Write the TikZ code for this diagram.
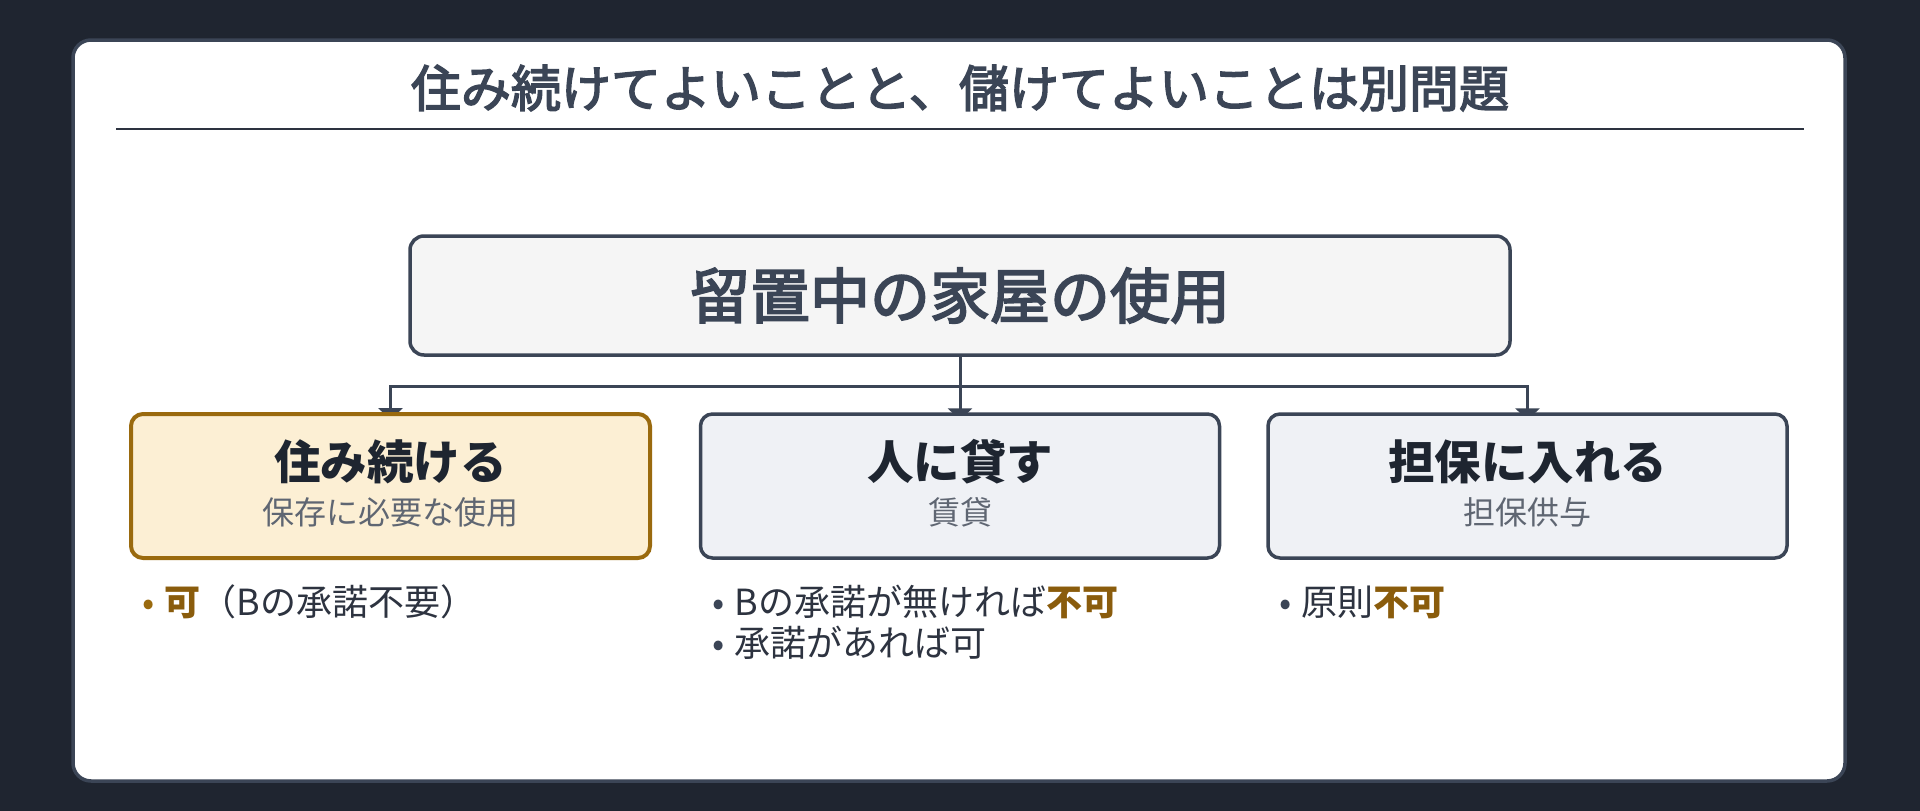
\documentclass[tikz,border=0pt]{standalone}
\usepackage{fontspec}
\setmainfont{Noto Sans CJK JP}
\newfontfamily\midfont{Noto Sans CJK JP}[FakeBold=3]
\usetikzlibrary{arrows.meta}
\definecolor{night}{HTML}{1F2530}
\definecolor{slate}{HTML}{3B4556}
\definecolor{ink}{HTML}{1E2530}
\definecolor{bodyink}{HTML}{2D3340}
\definecolor{inkgray}{HTML}{5F6672}
\definecolor{gold}{HTML}{9A6A0E}
\definecolor{goldtext}{HTML}{8A5C0C}
\definecolor{cream}{HTML}{FCEFD4}
\definecolor{mist}{HTML}{EFF1F5}
\definecolor{paper}{HTML}{F5F5F5}
\pgfdeclarelayer{card}
\pgfdeclarelayer{back}
\pgfsetlayers{card,back,main}
\tikzset{
  rootbox/.style={draw=slate, fill=paper, line width=3.5pt, rounded corners=14pt, minimum width=1100pt, minimum height=119pt, text=slate, font=\fontsize{60}{64}\midfont},
  leafbox/.style={draw=slate, fill=mist, line width=3.5pt, rounded corners=12pt, minimum width=519pt, minimum height=144pt},
  okbox/.style={leafbox, draw=gold, fill=cream, line width=4pt},
  leaftitle/.style={text=ink, font=\fontsize{46.5}{50}\selectfont\bfseries},
  leafsub/.style={text=inkgray, font=\fontsize{32}{36}\selectfont},
  item/.style={anchor=west, inner sep=0pt, text=bodyink, font=\fontsize{36}{40}\selectfont},
  link/.style={draw=slate, line width=3pt},
  tip/.style={link, -{Triangle[length=12pt,width=24pt]}}
}
\newcommand{\hl}[1]{\textcolor{goldtext}{\bfseries #1}}
\newcommand{\dotmark}[1]{\textcolor{#1}{•}\hspace{10pt}}
\begin{document}
\begin{tikzpicture}[x=1pt,y=-1pt]
  \begin{pgfonlayer}{card}
    \fill[night] (0,0) rectangle (1920,811);
    \draw[draw=slate, fill=white, line width=3.5pt, rounded corners=18pt] (73,40) rectangle (1845,781);
  \end{pgfonlayer}
  \useasboundingbox (0,0) rectangle (1920,811);
  \node[text=slate, font=\fontsize{50}{54}\midfont] (title) at (960,88) {住み続けてよいことと、儲けてよいことは別問題};
  \coordinate (ruleL) at (116,129);
  \coordinate (ruleR) at (1804,129);
  \draw[draw=bodyink, line width=2.5pt] (ruleL) -- (ruleR);

  \node[rootbox] (root) at (960,295.5) {留置中の家屋の使用};
  \coordinate (fork) at (960,386);

  \node[okbox] (live) at (390.5,486) {};
  \node[leaftitle] (liveT) at (390.5,462) {住み続ける};
  \node[leafsub] (liveS) at (390.5,512) {保存に必要な使用};

  \node[leafbox] (lend) at (960,486) {};
  \node[leaftitle] (lendT) at (960,462) {人に貸す};
  \node[leafsub] (lendS) at (960,512) {賃貸};

  \node[leafbox] (pledge) at (1527.5,486) {};
  \node[leaftitle] (pledgeT) at (1527.5,462) {担保に入れる};
  \node[leafsub] (pledgeS) at (1527.5,512) {担保供与};

  \begin{pgfonlayer}{back}
    \draw[link] (root) -- (fork);
    \draw[tip] (fork) -| ([yshift=-8pt]live.north);
    \draw[tip] (fork) -- ([yshift=-8pt]lend.north);
    \draw[tip] (fork) -| ([yshift=-8pt]pledge.north);
  \end{pgfonlayer}

  \node[item] (liveA) at (142,602) {\dotmark{gold}\hl{可}（Bの承諾不要）};
  \node[item] (lendA) at (712,602) {\dotmark{slate}Bの承諾が無ければ\hl{不可}};
  \node[item] (lendB) at (712,643) {\dotmark{slate}承諾があれば可};
  \node[item] (pledgeA) at (1279,602) {\dotmark{slate}原則\hl{不可}};
\end{tikzpicture}
\end{document}
